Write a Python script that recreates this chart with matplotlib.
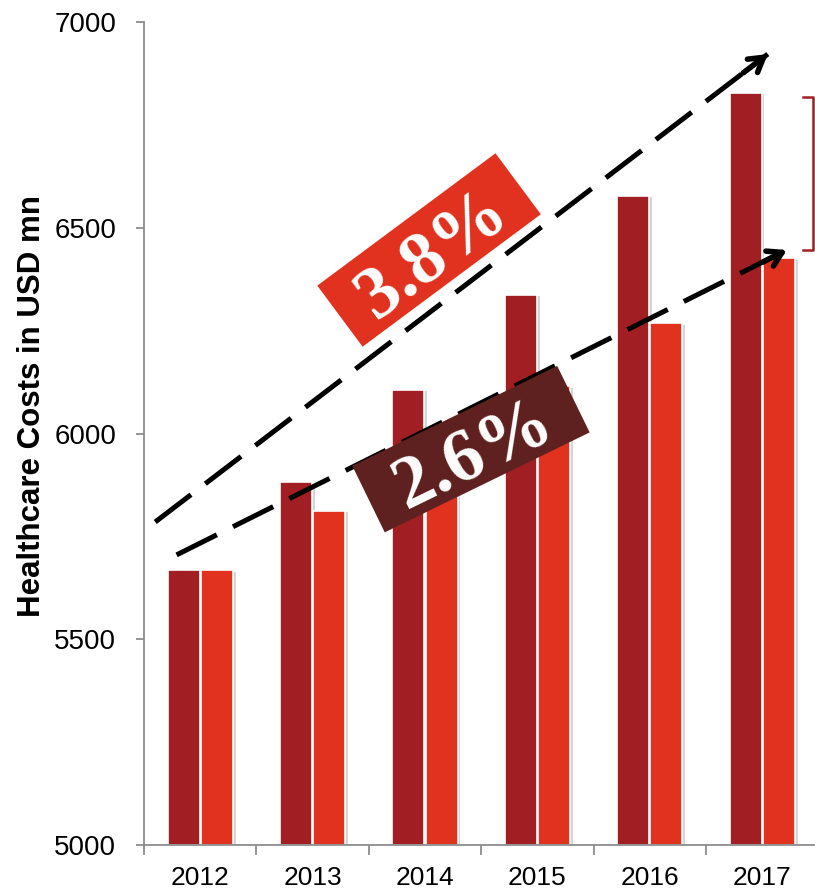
import matplotlib
matplotlib.use("Agg")
import matplotlib.pyplot as plt
import matplotlib.patheffects as pe
from matplotlib import transforms
from matplotlib.patches import Rectangle
from matplotlib import font_manager as fm
import numpy as np

# ---------------- data ----------------
years = ["2012", "2013", "2014", "2015", "2016", "2017"]
high_growth = [5668, 5881, 6106, 6337, 6577, 6828]   # dark red bars (3.8% CAGR)
low_growth = [5668, 5812, 5965, 6115, 6268, 6426]    # red bars (2.6% CAGR)
y_ticks = [5000, 5500, 6000, 6500, 7000]
label_high = "3.8%"
label_low = "2.6%"
y_label = "Healthcare Costs in USD mn"

# annotation anchor points (data coords)
arrow_high = ((-0.40, 5785), (5.05, 6922))
arrow_low = ((-0.21, 5705), (5.22, 6446))
label_high_pos = (2.036, 6446)
label_low_pos = (2.409, 5962)
bracket_span = (6446, 6818)

DARK = "#A11F22"
RED = "#E0321F"
BOX_DARK = "#5F2120"
BOX_RED = "#E0321F"
SPINE = "#8C8C8C"

available = {f.name for f in fm.fontManager.ttflist}
narrow = "Liberation Sans Narrow" if "Liberation Sans Narrow" in available else None

plt.rcParams["font.family"] = ["Liberation Sans", "DejaVu Sans"]

fig = plt.figure(figsize=(8.15, 8.91), dpi=100)
ax = fig.add_axes([144 / 815, 46 / 891, 671 / 815, 823 / 891])

x = np.arange(len(years))
w = 0.285
off = 0.147
shadow = [pe.SimplePatchShadow(offset=(2, -1), shadow_rgbFace="#888888", alpha=0.35), pe.Normal()]
b1 = ax.bar(x - off, [v - 5000 for v in high_growth], w, bottom=5000, color=DARK,
            edgecolor="white", linewidth=1.2, zorder=2)
b2 = ax.bar(x + off, [v - 5000 for v in low_growth], w, bottom=5000, color=RED,
            edgecolor="white", linewidth=1.2, zorder=2)
for p in list(b1) + list(b2):
    p.set_path_effects(shadow)

ax.set_ylim(5000, 7000)
ax.set_xlim(-0.5, -0.5 + 671 / 112.4)
ax.set_yticks(y_ticks)
ax.set_yticklabels([str(t) for t in y_ticks])
ax.set_xticks(x)
ax.set_xticklabels(years)
ax.set_xticks(np.arange(len(years)) - 0.5, minor=True)

for s in ["top", "right"]:
    ax.spines[s].set_visible(False)
for s in ["left", "bottom"]:
    ax.spines[s].set_color(SPINE)
    ax.spines[s].set_linewidth(1.3)

ax.tick_params(axis="y", direction="out", length=6, width=1.3, color=SPINE,
               labelsize=20, pad=14)
ax.tick_params(axis="x", which="major", length=0, labelsize=19, pad=15)
ax.tick_params(axis="x", which="minor", direction="out", length=7, width=1.3, color=SPINE)

if narrow:
    ax.set_ylabel(y_label, fontsize=27, fontweight="bold", family=[narrow, "DejaVu Sans"])
else:
    ax.set_ylabel(y_label, fontsize=22.5, fontweight="bold")
ax.yaxis.label.set_transform(fig.transFigure)
ax.yaxis.label.set_position((32 / 815, 1 - 406 / 891))
ax.yaxis.label.set_va("center")
ax.yaxis.label.set_ha("center")
ax.yaxis.set_label_coords(32 / 815, 1 - 406 / 891, transform=fig.transFigure)

# dashed growth arrows
def growth_arrow(p0, p1):
    (x0, y0), (x1, y1) = p0, p1
    ax.plot([x0, x1], [y0, y1], color="black", lw=3.6, dashes=(9, 3.6),
            solid_capstyle="butt", dash_capstyle="butt", zorder=3, clip_on=False)
    xs = x0 + (x1 - x0) * 0.96
    ys = y0 + (y1 - y0) * 0.96
    ax.annotate("", xy=(x1, y1), xytext=(xs, ys),
                arrowprops=dict(arrowstyle="->,head_length=1.0,head_width=0.6",
                                color="black", lw=4.0, shrinkA=0, shrinkB=0),
                zorder=3, annotation_clip=False)

growth_arrow(*arrow_high)
growth_arrow(*arrow_low)

# rotated label boxes
def label_box(pos, text, angle, wpx, hpx, color):
    tr = transforms.Affine2D().rotate_deg(angle) + \
        transforms.ScaledTranslation(pos[0], pos[1], ax.transData)
    rect = Rectangle((-wpx / 2, -hpx / 2), wpx, hpx, transform=tr, facecolor=color,
                     edgecolor="none", zorder=4, clip_on=False)
    ax.add_patch(rect)
    ax.text(pos[0], pos[1], text, rotation=angle, rotation_mode="anchor",
            ha="center", va="center_baseline", fontsize=54, fontweight="bold",
            family=["Liberation Serif", "DejaVu Serif"], color="white", zorder=5)

label_box(label_high_pos, label_high, 36.6, 222, 76, BOX_RED)
label_box(label_low_pos, label_low, 26.0, 228, 74, BOX_DARK)

# bracket at right
bx0, bx1 = 5.363, 5.452
ax.plot([bx0, bx1, bx1, bx0], [bracket_span[1], bracket_span[1], bracket_span[0], bracket_span[0]],
        color=DARK, lw=1.8, clip_on=False, zorder=3, solid_joinstyle="round")

fig.savefig("out.png", dpi=100)
